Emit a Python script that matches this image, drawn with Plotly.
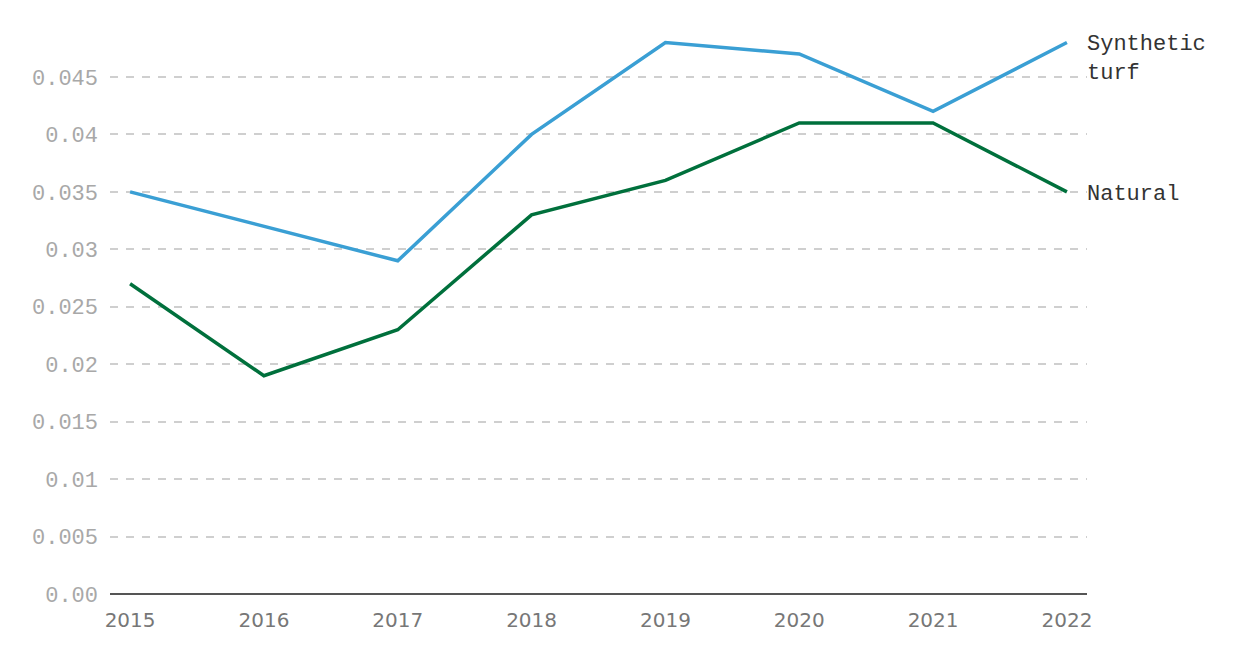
import plotly.graph_objects as go

years = [2015, 2016, 2017, 2018, 2019, 2020, 2021, 2022]
synthetic = [0.035, 0.032, 0.029, 0.040, 0.048, 0.047, 0.042, 0.048]
natural = [0.027, 0.019, 0.023, 0.033, 0.036, 0.041, 0.041, 0.035]
y_ticks = [0, 0.005, 0.01, 0.015, 0.02, 0.025, 0.03, 0.035, 0.04, 0.045]
y_tick_text = ["0.00", "0.005", "0.01", "0.015", "0.02", "0.025", "0.03", "0.035", "0.04", "0.045"]

BLUE = "#3a9fd4"
GREEN = "#00703c"
MONO = "Liberation Mono, DejaVu Sans Mono, monospace"

fig = go.Figure()
fig.add_trace(go.Scatter(x=years, y=synthetic, mode="lines", name="Synthetic turf",
                         line=dict(color=BLUE, width=3.5), hoverinfo="x+y"))
fig.add_trace(go.Scatter(x=years, y=natural, mode="lines", name="Natural",
                         line=dict(color=GREEN, width=3.5), hoverinfo="x+y"))

fig.add_annotation(x=years[-1], y=synthetic[-1], text="Synthetic<br>turf", showarrow=False,
                   xanchor="left", yanchor="middle", xshift=18, yshift=-17, align="left",
                   font=dict(family=MONO, size=22, color="#333333"))
fig.add_annotation(x=years[-1], y=natural[-1], text="Natural", showarrow=False,
                   xanchor="left", yanchor="middle", xshift=18, yshift=-3, align="left",
                   font=dict(family=MONO, size=22, color="#333333"))

fig.update_layout(
    width=1252, height=652,
    margin=dict(l=102, r=173, t=23, b=66),
    plot_bgcolor="white", paper_bgcolor="white",
    showlegend=False,
    xaxis=dict(range=[2014.85, 2022.15], tickvals=years, ticktext=[str(y) for y in years],
               showgrid=False, zeroline=False, showline=False, ticks="",
               ticklabelstandoff=12,
               tickfont=dict(family="DejaVu Sans, sans-serif", size=20, color="#777777")),
    yaxis=dict(range=[0, 0.049], tickvals=y_ticks, ticktext=y_tick_text,
               showgrid=True, gridcolor="#cfcfcf", griddash="8px,8px", gridwidth=2,
               zeroline=True, zerolinecolor="#555555", zerolinewidth=2,
               showline=False, ticks="", ticklabelstandoff=11,
               tickfont=dict(family=MONO, size=22, color="#a8a8a8")),
)
fig.write_html("out.html")
